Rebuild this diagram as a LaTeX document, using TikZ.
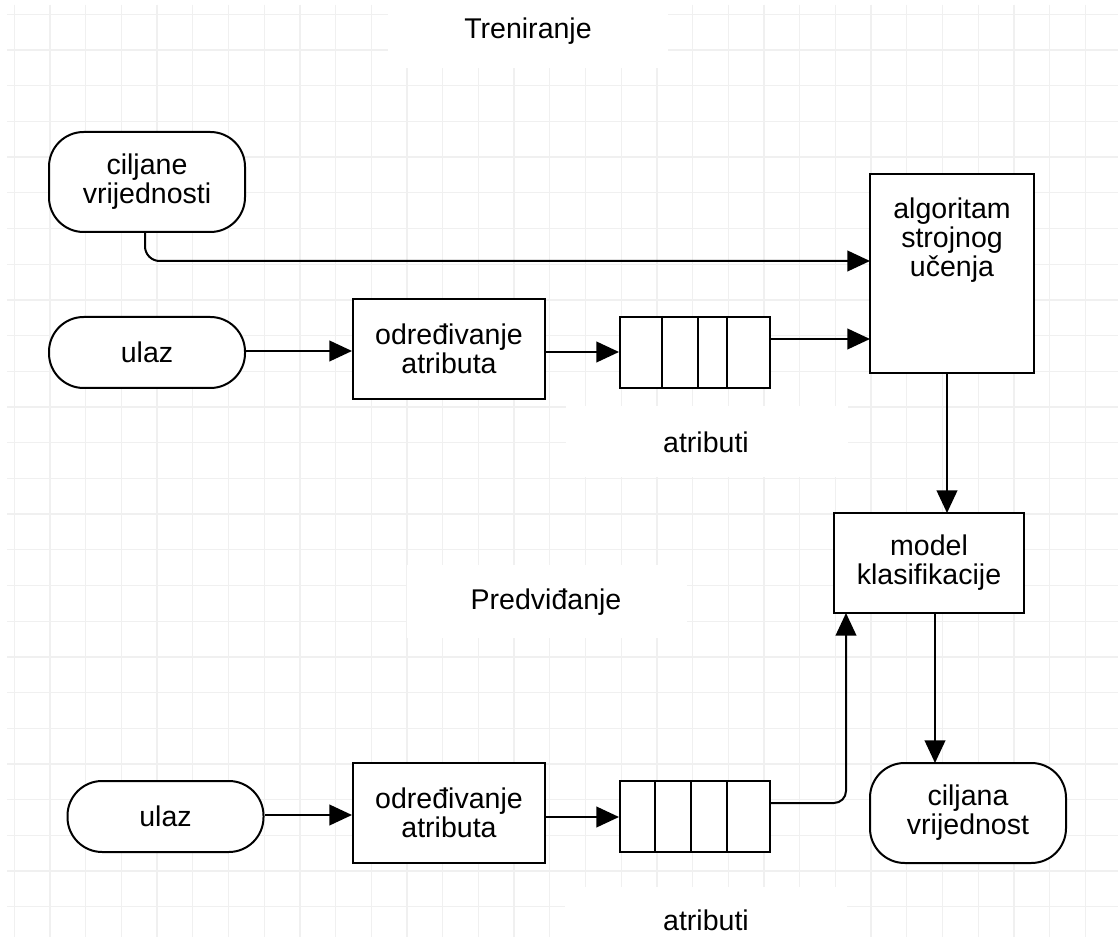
\documentclass[tikz,border=0pt]{standalone}
\usepackage{fontspec}
\setmainfont{Liberation Sans}
\usetikzlibrary{arrows.meta}
\begin{document}
\begin{tikzpicture}[x=0.75pt,y=-0.75pt,
  txt/.style={align=center,font=\fontsize{21.4}{21.8}\selectfont,inner sep=0pt},
  box/.style={draw,line width=1.5pt,fill=white,align=center,font=\fontsize{21.4}{21.8}\selectfont,inner sep=0pt},
  term/.style={box,rounded corners=26pt},
  conn/.style={line width=1.5pt,-{Triangle[length=17pt,width=15.5pt]}},
  gridline/.style={draw=black!6,line width=1pt},
  divider/.style={line width=1.5pt}]
\useasboundingbox (0,0) rectangle (1118,937);
\fill[white] (0,0) rectangle (1118,937);
% background grid
\foreach \k in {0,...,30} \draw[gridline] ({14.3+35.7*\k},5) -- ({14.3+35.7*\k},937);
\foreach \k in {0,...,25} \draw[gridline] (7,{14.3+35.7*\k}) -- (1118,{14.3+35.7*\k});
% white label backgrounds
\fill[white] (388,0) rectangle (668,68);
\fill[white] (566,406) rectangle (848,477);
\fill[white] (407,565) rectangle (687,638);
\fill[white] (565,887) rectangle (847,937);
% labels
\node[txt] (treniranje) at (528,31) {Treniranje};
\node[txt] (atributi1) at (706,442) {atributi};
\node[txt] (predvidanje) at (546,602) {Predviđanje};
\node[txt] (atributi2) at (706,920) {atributi};
% training row
\node[term,minimum width=147pt,minimum height=75pt] (cv) at (147,182) {ciljane\\vrijednosti};
\node[term,minimum width=147pt,minimum height=53.25pt] (ulaz1) at (147,352.5) {ulaz};
\node[box,minimum width=144pt,minimum height=75pt] (od1) at (449,349) {određivanje\\atributa};
\node[box,minimum width=112.5pt,minimum height=53.25pt] (q1) at (695,352.5) {};
\draw[divider] (q1.north west) ++(43,0) -- ++(0,71);
\draw[divider] (q1.north west) ++(79,0) -- ++(0,71);
\draw[divider] (q1.north west) ++(108,0) -- ++(0,71);
\node[box,minimum width=123pt,minimum height=149.25pt] (alg) at (952,273.5) {};
\node[txt] (algt) at (952,240) {algoritam\\strojnog\\učenja};
\node[box,minimum width=142.5pt,minimum height=75pt] (model) at (929,563) {model\\klasifikacije};
\node[term,minimum width=147pt,minimum height=75pt] (cv2) at (968,813) {ciljana\\vrijednost};
% prediction row
\node[term,minimum width=147pt,minimum height=53.25pt] (ulaz2) at (165.5,816.5) {ulaz};
\node[box,minimum width=144pt,minimum height=75pt] (od2) at (449,813) {određivanje\\atributa};
\node[box,minimum width=112.5pt,minimum height=53.25pt] (q2) at (695,816.5) {};
\draw[divider] (q2.north west) ++(36,0) -- ++(0,71);
\draw[divider] (q2.north west) ++(72,0) -- ++(0,71);
\draw[divider] (q2.north west) ++(108,0) -- ++(0,71);
% connection points
\coordinate (algin1) at (870,261);
\coordinate (algin2) at (870,339);
\coordinate (algout) at (947,373);
\coordinate (modin) at (947,513);
\coordinate (modout) at (935,613);
\coordinate (cv2in) at (935,763);
\coordinate (q2out) at (770,803);
\coordinate (modin2) at (846,613);
% connectors
\draw[conn,rounded corners=11pt] ([xshift=-1.5pt]cv.south) |- (algin1);
\draw[conn] (ulaz1.east |- 0,351) -- (od1.west |- 0,351);
\draw[conn] (od1.east |- 0,352) -- (q1.west |- 0,352);
\draw[conn] (q1.east |- algin2) -- (algin2);
\draw[conn] (algout) -- (modin);
\draw[conn] (modout) -- (cv2in);
\draw[conn] (ulaz2.east |- 0,815) -- (od2.west |- 0,815);
\draw[conn] (od2.east |- 0,817) -- (q2.west |- 0,817);
\draw[conn,rounded corners=9pt] (q2out) -| (modin2);
\end{tikzpicture}
\end{document}
